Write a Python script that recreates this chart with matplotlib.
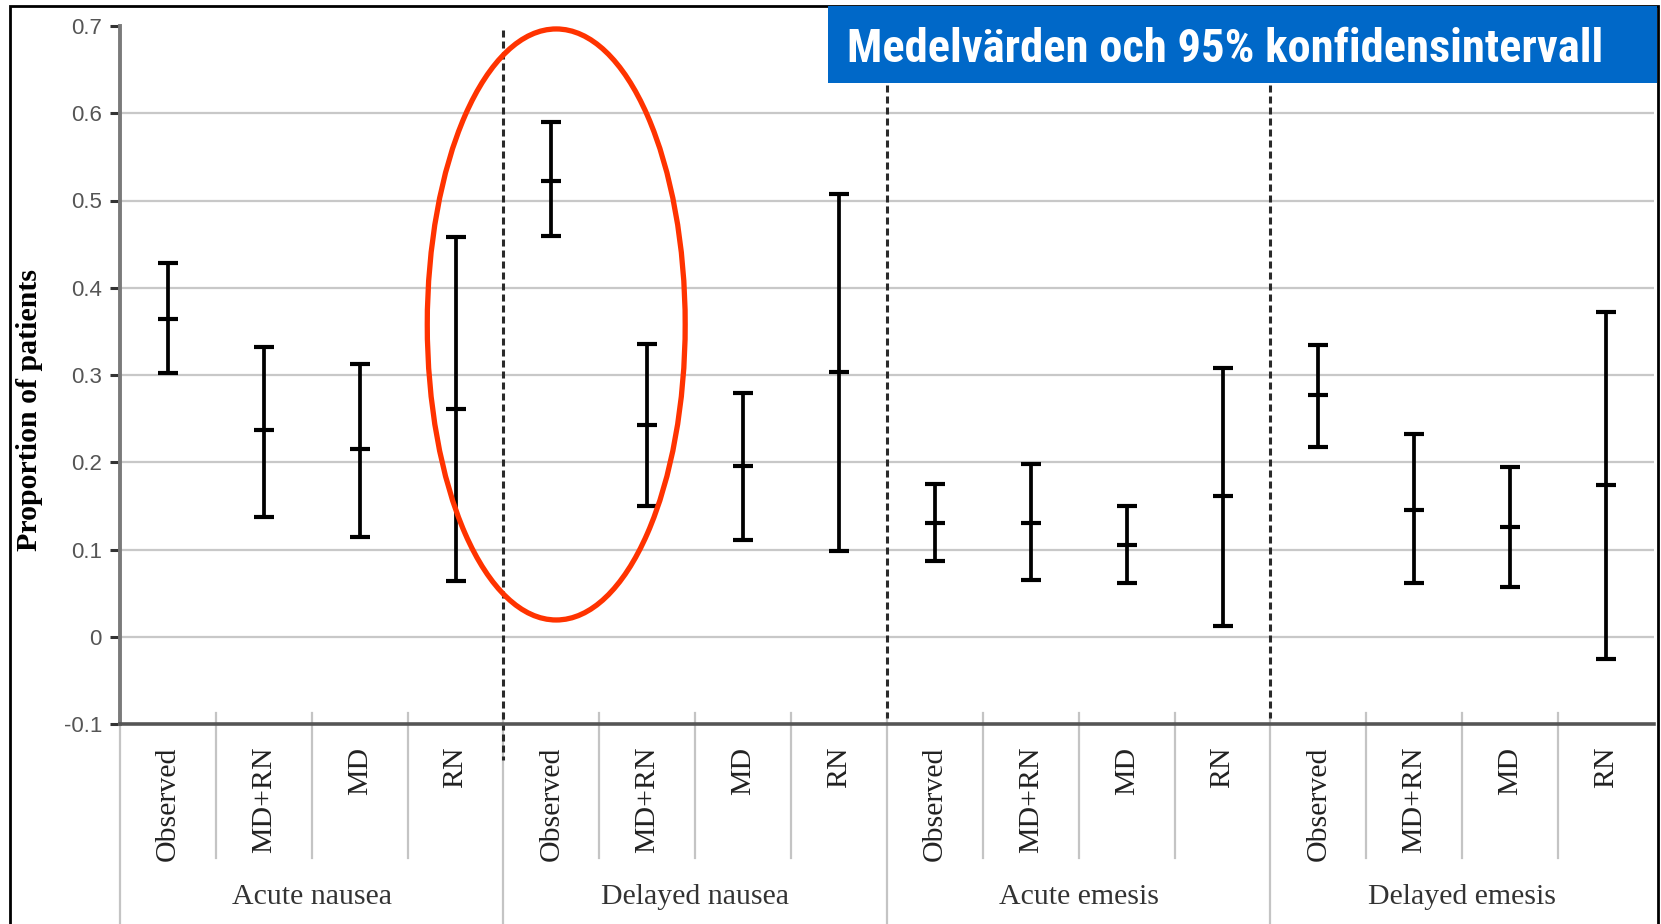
import numpy as np
import matplotlib.pyplot as plt
import matplotlib.transforms as mtransforms
from matplotlib.patches import Ellipse, Rectangle
from matplotlib import font_manager

groups = ["Acute nausea", "Delayed nausea", "Acute emesis", "Delayed emesis"]
methods = ["Observed", "MD+RN", "MD", "RN"]

# mean and 95% CI per bar, 4 methods within each of the 4 groups
means = [0.364, 0.237, 0.215, 0.261,
         0.522, 0.243, 0.196, 0.304,
         0.131, 0.131, 0.105, 0.162,
         0.277, 0.146, 0.126, 0.174]
lower = [0.302, 0.138, 0.115, 0.064,
         0.459, 0.150, 0.111, 0.099,
         0.087, 0.065, 0.062, 0.013,
         0.218, 0.062, 0.057, -0.025]
upper = [0.428, 0.332, 0.313, 0.458,
         0.590, 0.336, 0.280, 0.507,
         0.175, 0.198, 0.150, 0.308,
         0.334, 0.232, 0.195, 0.372]

ytick_values = [-0.1, 0.0, 0.1, 0.2, 0.3, 0.4, 0.5, 0.6, 0.7]
ytick_labels = ["-0.1", "0", "0.1", "0.2", "0.3", "0.4", "0.5", "0.6", "0.7"]
grid_levels = [0.0, 0.1, 0.2, 0.3, 0.4, 0.5, 0.6]

title = "Medelvärden och 95% konfidensintervall"

available = {f.name for f in font_manager.fontManager.ttflist}
narrow = next((n for n in ["Liberation Sans Narrow", "DejaVu Sans Condensed",
                           "Roboto Condensed", "Liberation Sans"] if n in available),
              "DejaVu Sans")

W, H = 1661, 924
fig = plt.figure(figsize=(W / 100, H / 100), dpi=100)
ax = fig.add_axes([120 / W, (H - 724.3) / H, 1534 / W, 698.4 / H])

n = len(means)
x = np.arange(n)
m = np.array(means)
lo = np.array(lower)
hi = np.array(upper)

ax.set_xlim(-0.5, n - 0.5)
ax.set_ylim(-0.1, 0.7)

for g in grid_levels:
    ax.axhline(g, color="#c8c8c8", lw=1.6, zorder=1)

ax.errorbar(x, m, yerr=[m - lo, hi - m], fmt="_", color="black", ms=15, mew=3,
            ecolor="black", elinewidth=2.7, capsize=7.5, capthick=3, zorder=3)

for s in ["top", "right"]:
    ax.spines[s].set_visible(False)
ax.spines["left"].set_color("#7a7a7a")
ax.spines["left"].set_linewidth(2.8)
ax.spines["bottom"].set_color("#555555")
ax.spines["bottom"].set_linewidth(2.6)

ax.set_yticks(ytick_values)
ax.set_yticklabels(ytick_labels, fontfamily="Liberation Sans", fontsize=16, color="#555555")
ax.tick_params(axis="y", length=7, width=2.2, color="#333333", pad=6)

cat_labels = methods * len(groups)
ax.set_xticks(x)
ax.set_xticklabels(cat_labels, rotation=90, fontfamily="Liberation Serif",
                   fontsize=21.5, color="#222222")
ax.tick_params(axis="x", length=0, pad=16)

ax.set_ylabel("Proportion of patients", fontfamily="Liberation Serif",
              fontweight="bold", fontsize=21.5)
ax.yaxis.set_label_coords(-0.0502, 0.45)

# separators below the axis
trans = mtransforms.blended_transform_factory(ax.transData, fig.transFigure)
for b in np.arange(0.5, n - 1, 1.0):
    if int(b + 0.5) % 4 == 0:
        continue
    ax.plot([b, b], [(H - 713) / H, (H - 858) / H], color="#c4c4c4", lw=1.6,
            transform=trans, clip_on=False, zorder=1)
for b in [-0.5, 3.5, 7.5, 11.5]:
    ax.plot([b, b], [(H - 713) / H, 0], color="#c4c4c4", lw=1.6,
            transform=trans, clip_on=False, zorder=1)

# dashed group dividers
for i, b in enumerate([3.5, 7.5, 11.5]):
    bottom = 760 if i == 0 else 718
    ax.plot([b, b], [(H - 30) / H, (H - bottom) / H], color="#2a2a2a", lw=2.2,
            ls=(0, (2.3, 1.3)), transform=trans, clip_on=False, zorder=2)

for gi, gname in enumerate(groups):
    ax.text(gi * 4 + 1.5, (H - 897) / H, gname, transform=trans, ha="center",
            va="center", fontfamily="Liberation Serif", fontsize=21.5, color="#333333")

ax.add_patch(Ellipse((4.05, 0.358), 2.69, 0.677, fill=False, ec="#ff3300",
                     lw=3.8, zorder=5, clip_on=False))

# frame and title box
fig.add_artist(Rectangle((10 / W, -0.05), 1648 / W, (H - 6) / H + 0.05,
                         transform=fig.transFigure, fill=False, ec="black", lw=2))
fig.add_artist(Rectangle((828 / W, (H - 83) / H), 829 / W, 77 / H,
                         transform=fig.transFigure, fc="#0068c8", ec="none"))
t = fig.text(847 / W, (H - 49) / H, title, color="white", fontweight="bold",
             fontfamily=narrow, fontsize=34, ha="left", va="center")
r = fig.canvas.get_renderer()
w = t.get_window_extent(r).width
t.set_fontsize(34 * 758 / w)

fig.savefig("out.png", dpi=100)
